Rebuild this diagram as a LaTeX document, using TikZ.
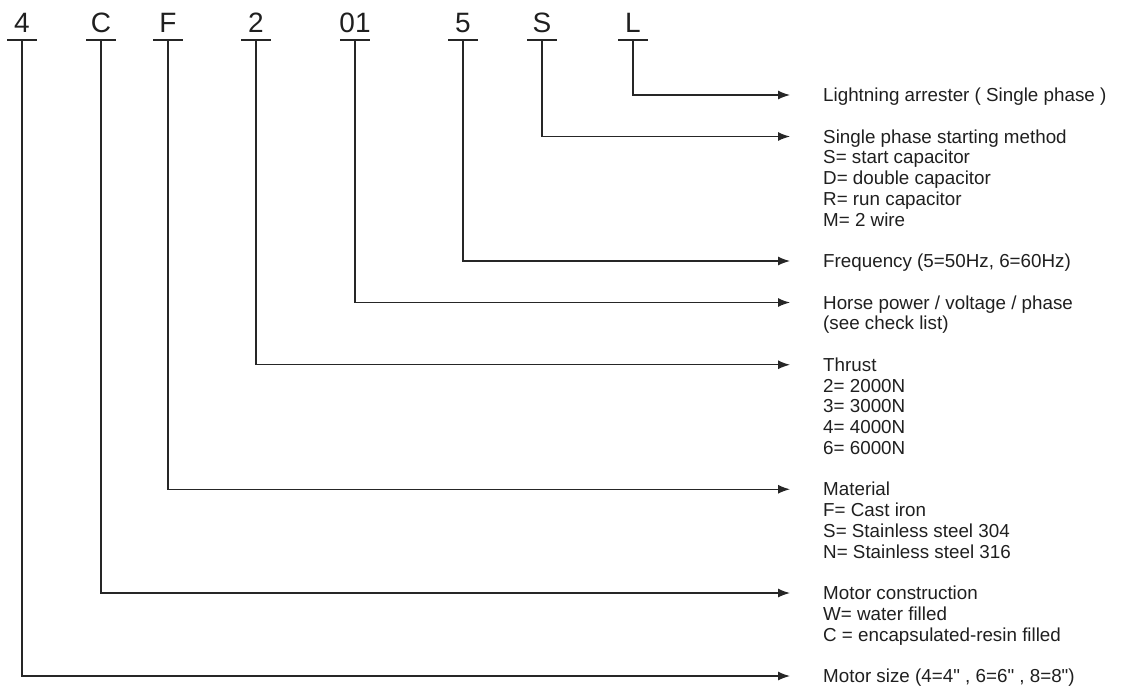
\documentclass[tikz,border=0pt]{standalone}
\usepackage{fontspec}
\setmainfont{Liberation Sans}[Ligatures=TeXOff]
\usetikzlibrary{arrows.meta}
\begin{document}
\begin{tikzpicture}[x=1pt,y=-1pt,
  code/.style={font=\fontsize{28}{30}\selectfont, anchor=base, inner sep=0pt, text=black!88},
  barline/.style={line width=1.3pt, draw=black!85},
  lead/.style={line width=1.3pt, draw=black!85, -{Latex[length=12pt,width=9pt]}},
  desc/.style={font=\fontsize{18.8}{20.75}\selectfont, anchor=base west, inner sep=0pt, text=black!88}]
\useasboundingbox (0,0) rectangle (1139,689);

% code characters with their bars
\foreach \n/\x/\t/\y in {A/22/4/676, B/101/C/593, C/168/F/489.25, D/256/2/364.75,
                          E/355/01/302.5, F/463/5/261, G/542/S/136.5, H/633/L/95}{
  \node[code] (c\n) at (\x,32) {\t};
  \coordinate (s\n) at (\x,40);
  \draw[barline] (\x-15,40) -- (\x+15,40);
  \coordinate (e\n) at (790,\y);
}

% descriptions
\node[desc] (tH) at (823,101.5) {Lightning arrester ( Single phase )};
\node[desc] (tG) at (823,143) {\begin{tabular}[t]{@{}l@{}}Single phase starting method\\ S= start capacitor\\ D= double capacitor\\ R= run capacitor\\ M= 2 wire\end{tabular}};
\node[desc] (tF) at (823,267.5) {Frequency (5=50Hz, 6=60Hz)};
\node[desc] (tE) at (823,309) {\begin{tabular}[t]{@{}l@{}}Horse power / voltage / phase\\ (see check list)\end{tabular}};
\node[desc] (tD) at (823,371.25) {\begin{tabular}[t]{@{}l@{}}Thrust\\ 2= 2000N\\ 3= 3000N\\ 4= 4000N\\ 6= 6000N\end{tabular}};
\node[desc] (tC) at (823,495.75) {\begin{tabular}[t]{@{}l@{}}Material\\ F= Cast iron\\ S= Stainless steel 304\\ N= Stainless steel 316\end{tabular}};
\node[desc] (tB) at (823,599.5) {\begin{tabular}[t]{@{}l@{}}Motor construction\\ W= water filled\\ C = encapsulated-resin filled\end{tabular}};
\node[desc] (tA) at (823,682.5) {Motor size (4=4" , 6=6" , 8=8")};

% connectors
\foreach \n in {A,B,C,D,E,F,G,H}{
  \draw[lead] (s\n) |- (e\n);
}
\end{tikzpicture}
\end{document}
